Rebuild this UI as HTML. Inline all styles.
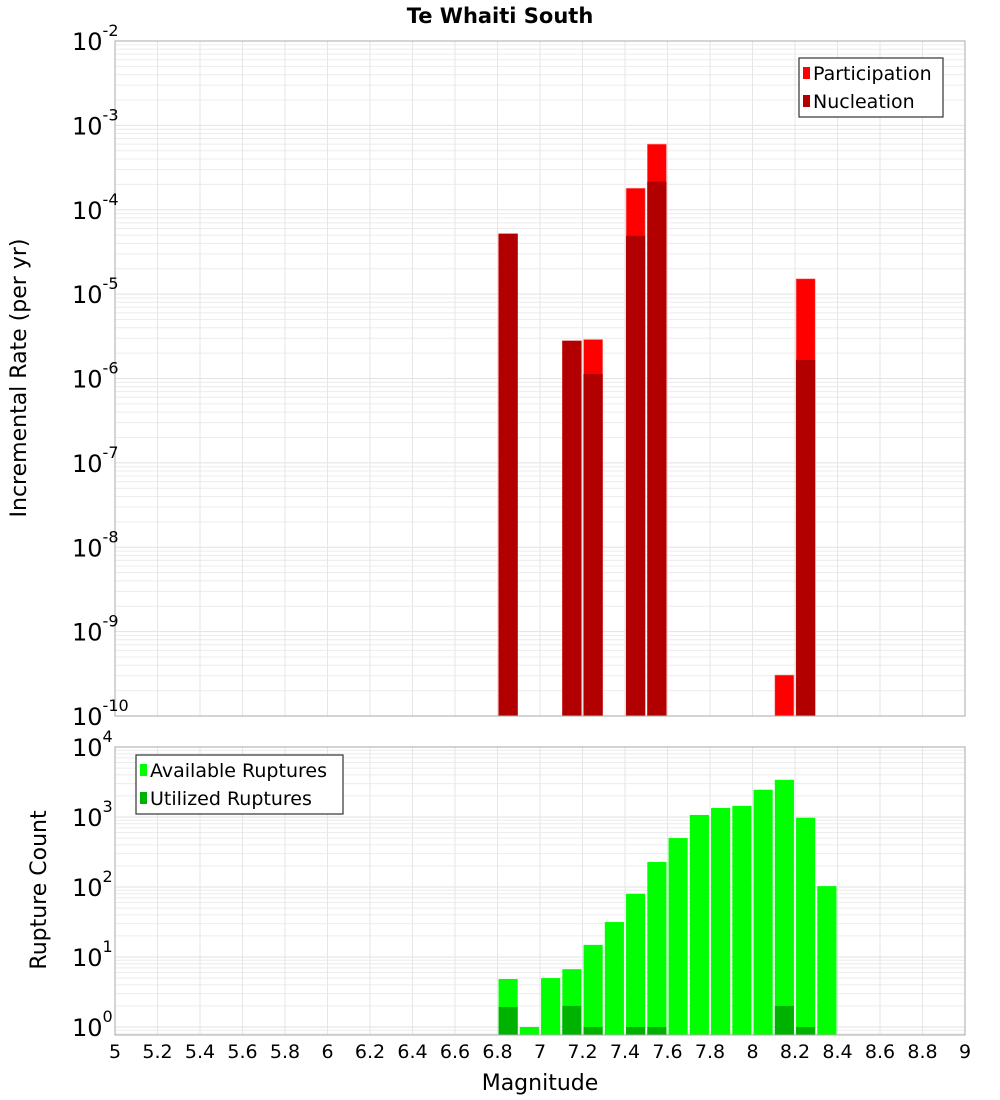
<!DOCTYPE html>
<html><head><meta charset="utf-8"><style>
html,body{margin:0;padding:0;background:#fff;}
svg{display:block;font-family:"Liberation Sans","DejaVu Sans",sans-serif;}
</style></head><body>
<svg id="chart" width="1000" height="1100" xmlns="http://www.w3.org/2000/svg">
<text x="500" y="23" text-anchor="middle" font-size="21" font-weight="bold" font-family="DejaVu Sans, sans-serif">Te Whaiti South</text>
<text transform="translate(26,378) rotate(-90)" text-anchor="middle" font-size="22" font-family="DejaVu Sans, sans-serif">Incremental Rate (per yr)</text>
<text transform="translate(46,890) rotate(-90)" text-anchor="middle" font-size="22" font-family="DejaVu Sans, sans-serif">Rupture Count</text>
<text x="540" y="1090" text-anchor="middle" font-size="22" font-family="DejaVu Sans, sans-serif">Magnitude</text>
<g id="g"></g>
</svg>
<script>
const bins = [6.85,6.95,7.05,7.15,7.25,7.35,7.45,7.55,7.65,7.75,7.85,7.95,8.05,8.15,8.25,8.35];
const participation = [5.2e-5,0,0,2.8e-6,2.9e-6,0,1.8e-4,6e-4,0,0,0,0,0,3.06e-10,1.52e-5,0];
const nucleation = [5.2e-5,0,0,2.8e-6,1.13e-6,0,4.9e-5,2.15e-4,0,0,0,0,0,0,1.66e-6,0];
const available = [4.85,1,5,6.7,14.9,31.6,80,228,500,1070,1350,1440,2450,3400,975,103];
const utilized = [1.93,0,0,2,1,0,1,1,0,0,0,0,0,2,1,0];
const xTicks = ["5","5.2","5.4","5.6","5.8","6","6.2","6.4","6.6","6.8","7","7.2","7.4","7.6","7.8","8","8.2","8.4","8.6","8.8","9"];

const NS="http://www.w3.org/2000/svg";
const gRoot=document.getElementById('g');
function mk(tag,attrs,parent){const e=document.createElementNS(NS,tag);for(const k in attrs)e.setAttribute(k,attrs[k]);(parent||gRoot).appendChild(e);return e;}
const X0=115,X1=965;
const xs=v=>X0+(v-5)/4*(X1-X0);
const pTop={t:41,b:716,lmin:-10,lmax:-2};
const pBot={t:747,b:1035,lmin:-8/70,lmax:4};
function ys(p,v){const l=Math.log10(v);return p.b-(l-p.lmin)/(p.lmax-p.lmin)*(p.b-p.t);}
function panel(p,d0,d1){
  const gr=mk('g',{});
  
  
  for(let d=d0;d<=d1;d++){for(let m=1;m<10;m++){const v=m*Math.pow(10,d);const y=ys(p,v);if(y<p.t-0.5||y>p.b+0.5)continue;
    mk('line',{x1:X0,x2:X1,y1:y,y2:y,stroke:m==1?'#e2e2e2':'#ececec','stroke-width':1},gr);}}
  for(let i=0;i<xTicks.length;i++){const x=xs(+xTicks[i]);mk('line',{x1:x,x2:x,y1:p.t,y2:p.b,stroke:'#e6e6e6','stroke-width':1},gr);}
}
panel(pTop,-10,-2);panel(pBot,-1,4);
for(let i=0;i<bins.length;i++){
  const x=xs(bins[i]-0.045),w=xs(bins[i]+0.045)-x;
  if(participation[i]>0){const y=ys(pTop,participation[i]);const r=mk('rect',{x:x,y:y,width:w,height:pTop.b-y,fill:'#ff0000',stroke:'#ff9090','stroke-width':0.6});
    
    }
  if(nucleation[i]>0){const y=ys(pTop,nucleation[i]);const r=mk('rect',{x:x,y:y,width:w,height:pTop.b-y,fill:'#b20000'});
    
    }
}
for(let i=0;i<bins.length;i++){
  const x=xs(bins[i]-0.045),w=xs(bins[i]+0.045)-x;
  if(available[i]>0){const y=ys(pBot,available[i]);const r=mk('rect',{x:x,y:y,width:w,height:pBot.b-y,fill:'#00ff00'});
    
    }
  if(utilized[i]>0){const y=ys(pBot,utilized[i]);const r=mk('rect',{x:x,y:y,width:w,height:pBot.b-y,fill:'#00b200'});
    
    }
}
mk('rect',{x:X0,y:pTop.t,width:X1-X0,height:pTop.b-pTop.t,fill:'none',stroke:'#aaa'});
mk('rect',{x:X0,y:pBot.t,width:X1-X0,height:pBot.b-pBot.t,fill:'none',stroke:'#aaa'});
function ylab(p,d,name){const y=ys(p,Math.pow(10,d));const t=mk('text',{x:72,y:y+9,'font-size':24,'font-family':'DejaVu Sans, sans-serif'});
  
  
  t.textContent='10';const s=mk('tspan',{dy:-14,'font-size':16},t);s.textContent=String(d);}
for(let d=-10;d<=-2;d++)ylab(pTop,d,'top-y-tick-label');
for(let d=0;d<=4;d++)ylab(pBot,d,'bottom-y-tick-label');
for(let i=0;i<xTicks.length;i++){const t=mk('text',{x:xs(+xTicks[i]),y:1058,'text-anchor':'middle','font-size':19,'font-family':'DejaVu Sans, sans-serif'});
  
  
  t.textContent=xTicks[i];}
function legend(x,y,w,items,name){const lg=mk('g',{});
  
  
  mk('rect',{x:x,y:y,width:w,height:59,fill:'#fff',stroke:'#333','stroke-width':1.2},lg);
  items.forEach((it,k)=>{mk('rect',{x:x+4,y:y+9+k*28,width:7,height:12,fill:it[1]},lg);
    const t=mk('text',{x:x+14,y:y+22+k*28,'font-size':19,'font-family':'DejaVu Sans, sans-serif'},lg);t.textContent=it[0];});}
legend(799,58,144,[['Participation','#ff0000'],['Nucleation','#b20000']],'top-legend');
legend(136,755,207,[['Available Ruptures','#00ff00'],['Utilized Ruptures','#00b200']],'bottom-legend');
</script>
</body></html>
